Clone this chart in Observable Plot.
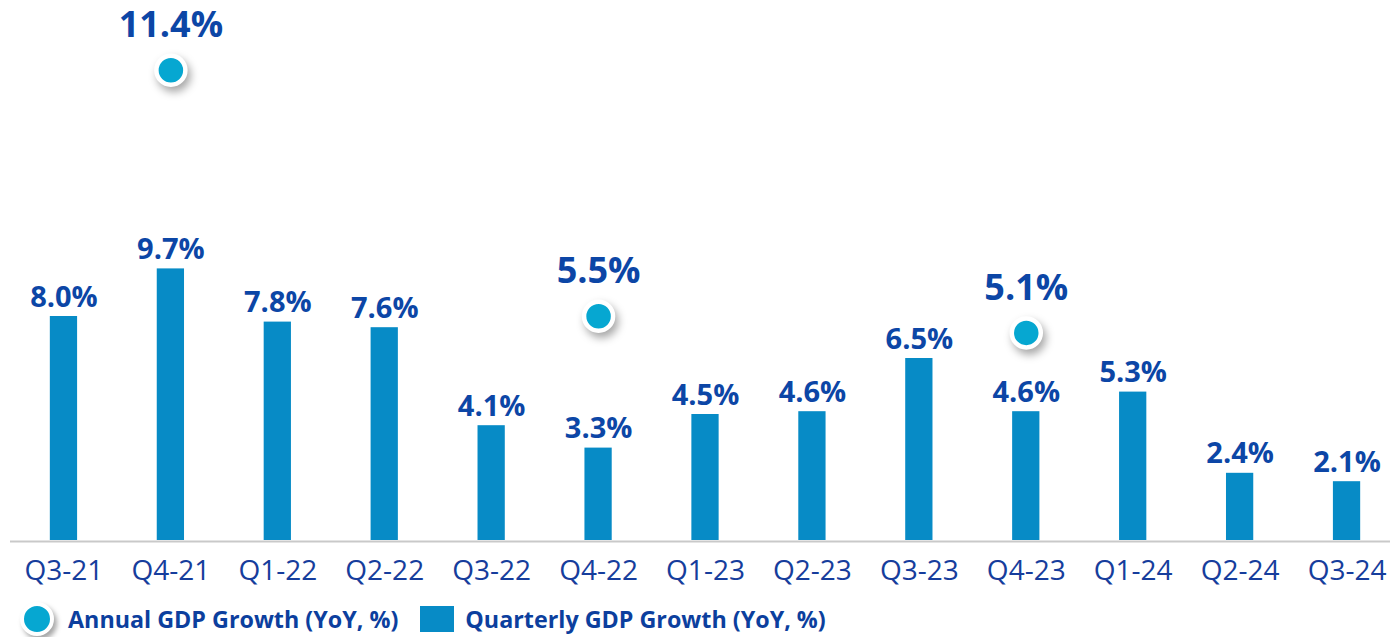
<!DOCTYPE html>
<html>
<head>
<meta charset="utf-8">
<script src="https://cdn.jsdelivr.net/npm/d3@7"></script>
<script src="https://cdn.jsdelivr.net/npm/@observablehq/plot@0.6"></script>
<style>
  html, body { margin: 0; padding: 0; background: #fff; overflow: hidden; }
  body { width: 1390px; height: 637px; font-family: "Open Sans", sans-serif; }
  #chart svg { display: block; overflow: visible; max-width: none !important; }
  .legend { display: flex; align-items: center; height: 42px; margin-top: 2px; color: #0c3f9e; font-weight: 700; font-size: 23.3px; }
  .legend .dot { width: 26px; height: 26px; border-radius: 50%; background: #06a7d1; border: 4px solid #fff; box-shadow: 3px 4px 5px rgba(0,0,0,0.35); margin-left: 20px; margin-right: 14px; box-sizing: content-box;}
  .legend .sq { width: 34px; height: 26px; background: #078bc6; margin-left: 22px; margin-right: 11px; }
</style>
</head>
<body>
<div id="chart"></div>
<div class="legend">
  <span class="dot"></span><span>Annual GDP Growth (YoY, %)</span>
  <span class="sq"></span><span>Quarterly GDP Growth (YoY, %)</span>
</div>
<script>
const quarters = ["Q3-21","Q4-21","Q1-22","Q2-22","Q3-22","Q4-22","Q1-23","Q2-23","Q3-23","Q4-23","Q1-24","Q2-24","Q3-24"];
const quarterlyGrowth = [8.0, 9.7, 7.8, 7.6, 4.1, 3.3, 4.5, 4.6, 6.5, 4.6, 5.3, 2.4, 2.1];
const annualQuarters = ["Q4-21","Q4-22","Q4-23"];
const annualGrowth = [11.4, 5.5, 5.1];

const bars = quarters.map((q, i) => ({q, v: quarterlyGrowth[i]}));
const annual = annualQuarters.map((q, i) => ({q, v: annualGrowth[i]}));

// secondary axis for annual growth mapped onto the primary scale
const secK = 1.489, secOff = -0.18;
const sec = v => v * secK + secOff;

const textColor = "#0c46a6";

const plot = Plot.plot({
  width: 1400,
  height: 596,
  marginLeft: 10,
  marginRight: 0,
  marginTop: 0,
  marginBottom: 56,
  style: {fontFamily: "'Open Sans', sans-serif", background: "transparent", overflow: "visible"},
  x: {domain: quarters, paddingInner: 0.745, paddingOuter: 0.3725, align: 0.5, round: false, label: null},
  y: {domain: [0, 540 / 28], axis: null},
  marks: [
    Plot.barY(bars, {x: "q", y: "v", fill: "#078bc6"}),
    Plot.ruleY([0], {stroke: "#c9c9c9", strokeWidth: 2, dy: 1}),
    Plot.text(bars, {x: "q", y: "v", text: d => d.v.toFixed(1) + "%", lineAnchor: "bottom", dy: -10, fill: textColor, fontSize: 29, fontWeight: 700}),
    Plot.dot(annual, {x: "q", y: d => sec(d.v), r: 14.5, fill: "#06a7d1", stroke: "#fff", strokeWidth: 4.5}),
    Plot.text(annual, {x: "q", y: d => sec(d.v), text: d => d.v.toFixed(1) + "%", lineAnchor: "bottom", dy: -33, fill: textColor, fontSize: 36, fontWeight: 700}),
    Plot.axisX({tickSize: 0, tickPadding: 20, fontSize: 28, fill: "#163d9c", label: null})
  ]
});
document.getElementById("chart").appendChild(plot);
d3.select(plot).selectAll("circle").style("filter", "drop-shadow(3px 5px 4px rgba(0,0,0,0.35))");
</script>
</body>
</html>
